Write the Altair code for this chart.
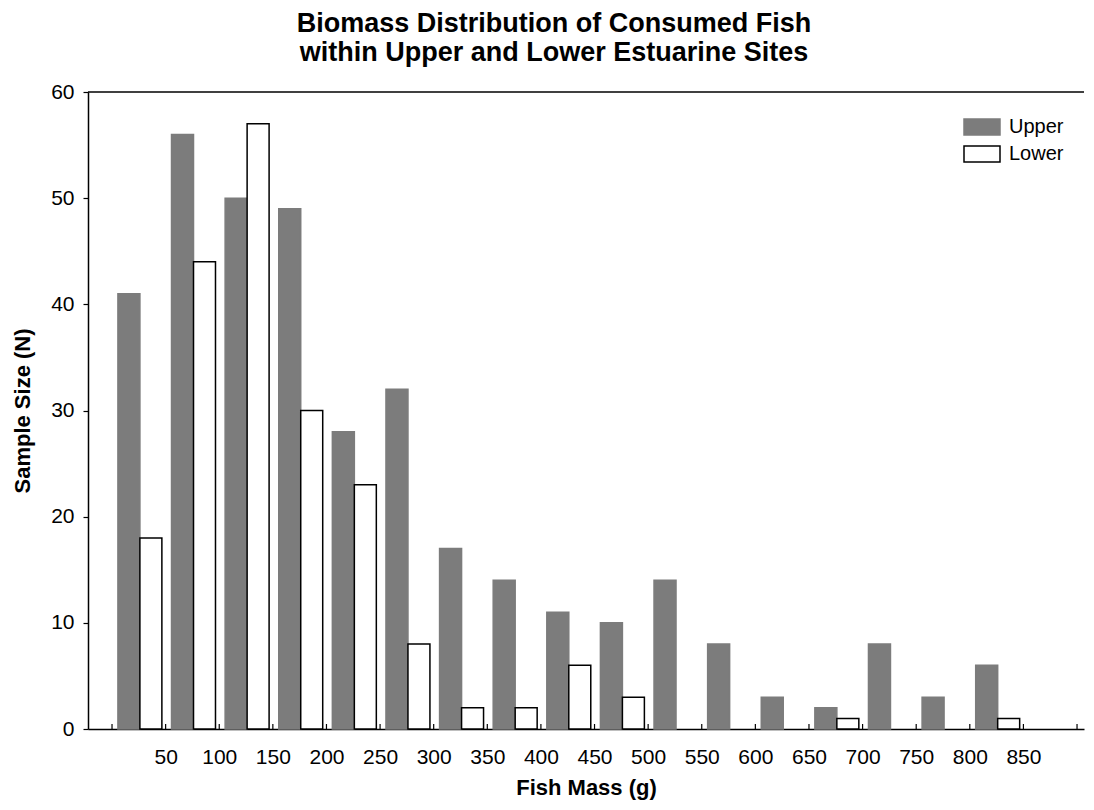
import altair as alt
import pandas as pd

# ---- data ----
bin_starts = [0, 50, 100, 150, 200, 250, 300, 350, 400, 450, 500, 550, 600, 650, 700, 750, 800]
upper = [41, 56, 50, 49, 28, 32, 17, 14, 11, 10, 14, 8, 3, 2, 8, 3, 6]
lower = [18, 44, 57, 30, 23, 8, 2, 2, 6, 3, 0, 0, 0, 1, 0, 0, 1]
tick_values = list(range(0, 901, 50))
y_ticks = [0, 10, 20, 30, 40, 50, 60]
sites = ["Upper", "Lower"]

FONT = "Liberation Sans"
W, H = 996, 637
GREY = "#7c7c7c"

# bar placement inside each 50 g bin (in data units)
U0, MID, L1 = 5.5, 26.0, 46.5

rows = []
for s, u, l in zip(bin_starts, upper, lower):
    rows.append({"site": "Upper", "x0": s + U0, "x1": s + MID, "n": u})
    rows.append({"site": "Lower", "x0": s + MID, "x1": s + L1, "n": l})
df = pd.DataFrame(rows)
df = df[df["n"] > 0]

xscale = alt.Scale(domain=[-22.4, 906.5], nice=False, zero=False)
yscale = alt.Scale(domain=[0, 60], nice=False)

legend_kw = dict(title=None, orient="none", legendX=884, legendY=25,
                 symbolType="M-2.25,-1L2.25,-1L2.25,1L-2.25,1Z",
                 symbolSize=256, symbolStrokeWidth=1.5,
                 labelFontSize=20, labelOffset=17, rowPadding=5,
                 padding=0, labelColor="black")

bars = alt.Chart(df).mark_bar(strokeWidth=1.5).encode(
    x=alt.X("x0:Q", scale=xscale,
            axis=alt.Axis(values=tick_values, ticks=False,
                          labelExpr="(datum.value == 0 || datum.value == 900) ? '' : datum.label",
                          labelFontSize=21, labelPadding=17, labelColor="black",
                          domainColor="black", domainWidth=1.5,
                          title="Fish Mass (g)", titleFontSize=22, titleFontWeight="bold",
                          titlePadding=10, titleColor="black", grid=False)),
    x2="x1:Q",
    y=alt.Y("n:Q", scale=yscale,
            axis=alt.Axis(values=y_ticks, tickSize=5, tickColor="black", tickWidth=1.2,
                          labelFontSize=21, labelPadding=9, labelColor="black",
                          domainColor="black", domainWidth=1.5,
                          title="Sample Size (N)", titleFontSize=22, titleFontWeight="bold",
                          titlePadding=16, titleColor="black", grid=False)),
    y2=alt.datum(0),
    fill=alt.Fill("site:N", scale=alt.Scale(domain=sites, range=[GREY, "white"]),
                  legend=alt.Legend(**legend_kw)),
    stroke=alt.Stroke("site:N", scale=alt.Scale(domain=sites, range=[GREY, "black"]),
                      legend=alt.Legend(**legend_kw)),
)

ticks = alt.Chart(pd.DataFrame({"v": tick_values})).mark_rule(color="black", strokeWidth=1.2).encode(
    x=alt.X("v:Q", scale=xscale),
    y=alt.value(H),
    y2=alt.value(H - 5),
)

top_line = alt.Chart(pd.DataFrame({"a": [0]})).mark_rule(color="black", strokeWidth=1.5).encode(
    x=alt.value(0), x2=alt.value(W), y=alt.value(0)
)

chart = alt.layer(bars, ticks, top_line).properties(
    width=W, height=H,
    autosize=alt.AutoSizeParams(type="none"),
    padding={"left": 80, "top": 84, "right": 2, "bottom": 73},
    title=alt.TitleParams(
        ["Biomass Distribution of Consumed Fish", "within Upper and Lower Estuarine Sites"],
        fontSize=27, fontWeight="bold", font=FONT, color="black",
        anchor="middle", frame="group", dx=-32, offset=14, lineHeight=29),
).configure(font=FONT).configure_view(stroke=None).configure_axis(
    labelFont=FONT, titleFont=FONT
).configure_legend(labelFont=FONT)

chart.save("out.html", embed_options={"renderer": "svg", "actions": False})
